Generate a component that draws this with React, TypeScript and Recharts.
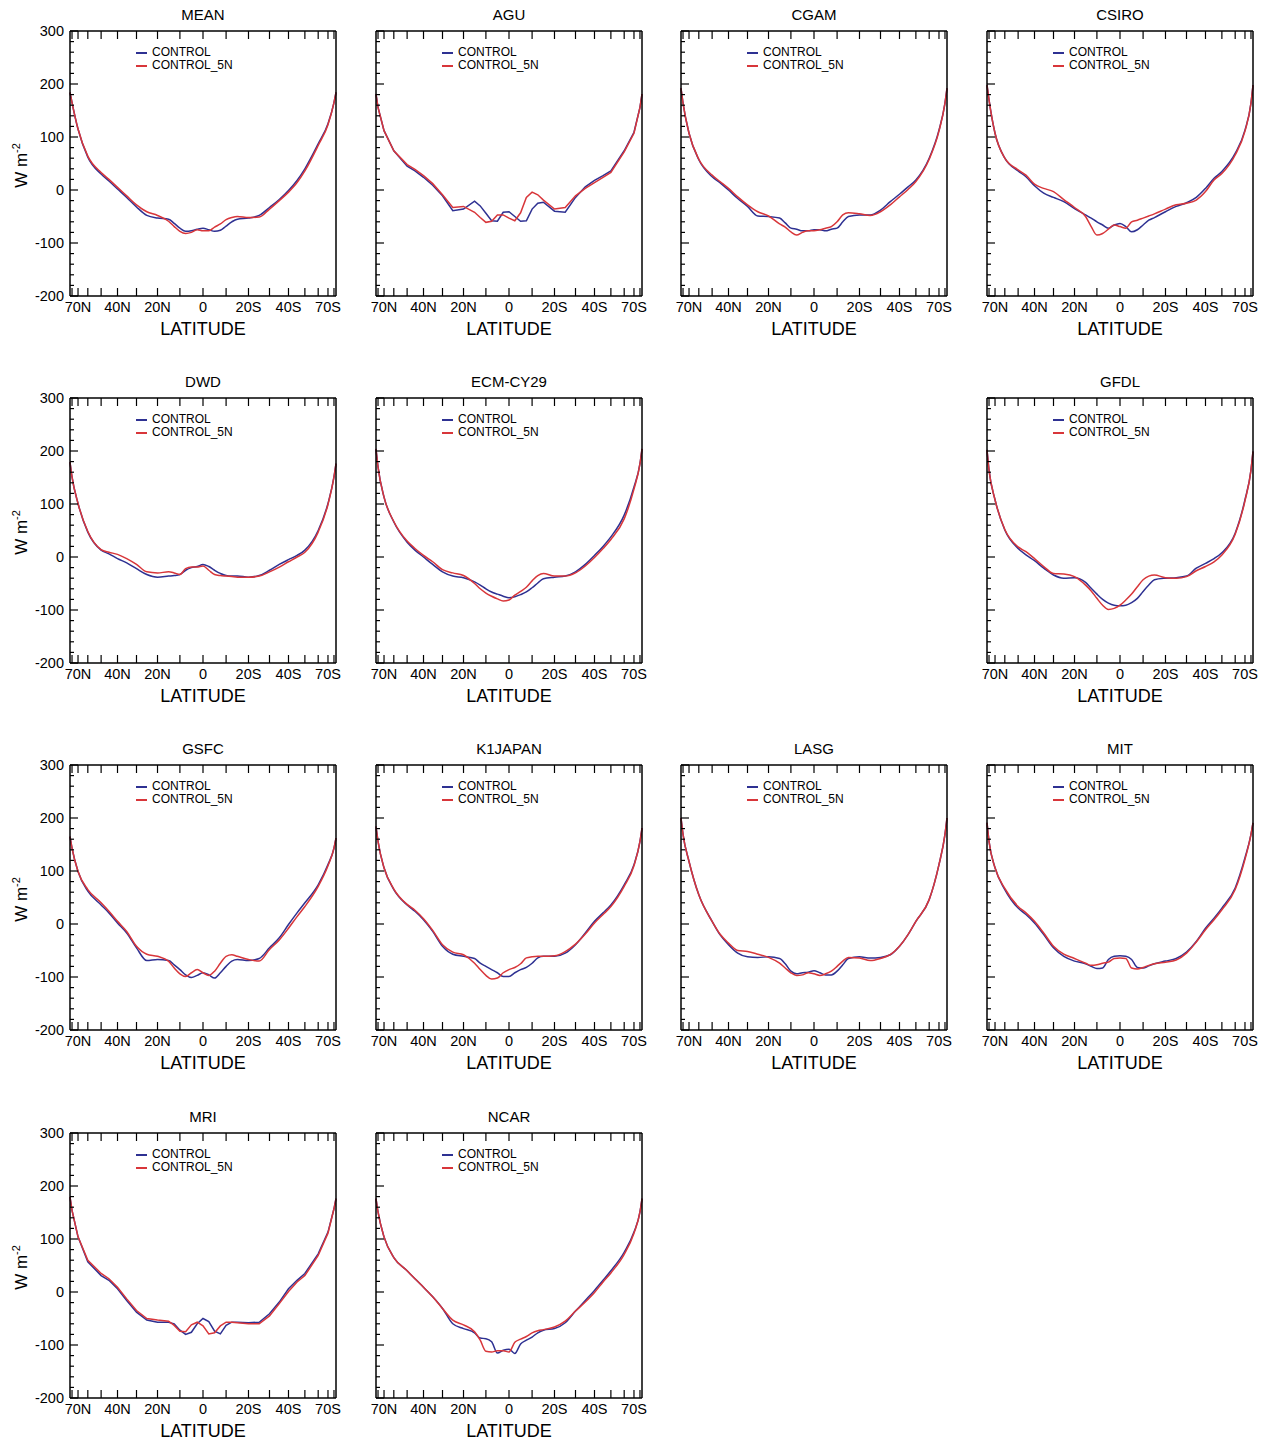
import React from "react";
import { LineChart, Line, XAxis, YAxis, Legend } from "recharts";

// latitude of each sample, north positive (plotted on a sin(latitude) axis)
const LATS = [
  90, 80, 70, 60, 50, 45, 40, 35, 30, 25, 20, 15, 12.5, 10, 7.5, 5, 2.5, 0,
  -2.5, -5, -7.5, -10, -12.5, -15, -20, -25, -30, -35, -40, -45, -50, -60, -70, -80, -90,
];

const X_TICK_LATS = [80, 70, 60, 50, 40, 30, 20, 10, 0, -10, -20, -30, -40, -50, -60, -70, -80];
const X_LABEL_LATS = [70, 40, 20, 0, -20, -40, -70];
const X_LABELS = ["70N", "40N", "20N", "0", "20S", "40S", "70S"];
const Y_TICKS = [
  -200, -180, -160, -140, -120, -100, -80, -60, -40, -20, 0, 20, 40, 60, 80, 100, 120, 140,
  160, 180, 200, 220, 240, 260, 280, 300,
];

const MEAN_CONTROL = [184, 165, 115, 62, 30, 17, 2, -14, -32, -48, -53, -55, -63, -72, -78, -77, -74, -72, -75, -78, -76, -68, -60, -55, -53, -48, -33, -18, -1, 18, 40, 87, 125, 165, 184];
const MEAN_5N = [184, 165, 115, 64, 33, 20, 5, -11, -28, -41, -48, -59, -69, -78, -82, -80, -75, -77, -77, -70, -64, -56, -52, -50, -52, -51, -36, -20, -4, 14, 36, 84, 123, 165, 184];
const AGU_CONTROL = [181, 156, 112, 74, 45, 36, 24, 9, -11, -39, -36, -21, -30, -44, -58, -59, -42, -41, -50, -59, -58, -36, -25, -23, -40, -42, -14, 6, 18, 27, 36, 74, 109, 156, 181];
const AGU_5N = [181, 156, 112, 74, 48, 39, 27, 12, -9, -33, -31, -42, -52, -61, -59, -47, -47, -53, -58, -43, -14, -4, -9, -19, -36, -33, -11, 3, 14, 24, 33, 72, 107, 156, 181];
const CGAM_CONTROL = [192, 164, 107, 57, 25, 14, 0, -16, -31, -49, -50, -53, -62, -72, -74, -77, -77, -75, -75, -77, -74, -72, -60, -50, -47, -47, -38, -22, -8, 6, 19, 60, 113, 164, 192];
const CGAM_5N = [192, 164, 107, 58, 28, 16, 3, -13, -28, -41, -49, -64, -70, -79, -85, -80, -77, -77, -75, -72, -69, -60, -47, -43, -45, -48, -41, -28, -13, 1, 16, 58, 111, 164, 192];
const CSIRO_CONTROL = [198, 170, 107, 60, 36, 25, 8, -6, -14, -22, -35, -47, -53, -60, -66, -72, -66, -63, -69, -79, -75, -66, -57, -52, -41, -31, -24, -14, 3, 22, 35, 69, 113, 164, 198];
const CSIRO_5N = [198, 170, 107, 60, 38, 28, 11, 3, -3, -18, -33, -50, -69, -85, -82, -74, -66, -69, -72, -60, -57, -53, -49, -45, -36, -28, -25, -19, -3, 19, 31, 66, 111, 164, 198];
const DWD_CONTROL = [179, 151, 101, 47, 13, 6, -3, -11, -22, -33, -38, -36, -35, -33, -25, -20, -18, -14, -18, -25, -31, -35, -36, -36, -38, -35, -25, -14, -5, 3, 13, 50, 101, 151, 176];
const DWD_5N = [179, 151, 101, 48, 14, 9, 5, -3, -14, -28, -30, -28, -30, -33, -22, -19, -19, -17, -25, -33, -35, -36, -37, -38, -38, -36, -28, -19, -9, 0, 9, 47, 99, 151, 176];
const ECM_CONTROL = [204, 170, 113, 66, 28, 13, 0, -14, -28, -36, -39, -47, -53, -60, -66, -70, -74, -77, -75, -71, -66, -58, -49, -41, -38, -36, -28, -14, 3, 20, 38, 79, 132, 176, 204];
const ECM_5N = [204, 170, 113, 67, 30, 16, 3, -9, -24, -30, -35, -50, -60, -68, -74, -79, -83, -81, -72, -65, -57, -45, -35, -31, -36, -36, -30, -17, -1, 16, 33, 72, 128, 176, 204];
const GFDL_CONTROL = [202, 164, 108, 51, 16, 4, -7, -21, -34, -40, -39, -48, -59, -70, -80, -87, -91, -92, -91, -86, -78, -65, -53, -43, -40, -39, -36, -21, -12, -3, 8, 45, 108, 164, 199];
const GFDL_5N = [202, 164, 108, 52, 19, 10, -3, -18, -31, -32, -37, -53, -64, -78, -91, -99, -97, -91, -81, -70, -56, -43, -36, -34, -39, -40, -37, -26, -18, -9, 4, 43, 106, 164, 199];
const GSFC_CONTROL = [165, 143, 99, 62, 36, 21, 2, -17, -45, -69, -67, -69, -77, -86, -96, -101, -97, -92, -96, -102, -92, -80, -70, -67, -69, -65, -45, -26, -1, 21, 40, 74, 112, 143, 162];
const GSFC_5N = [165, 143, 99, 65, 40, 24, 5, -14, -42, -57, -61, -70, -83, -94, -99, -92, -86, -92, -97, -89, -74, -61, -58, -61, -67, -70, -48, -30, -8, 14, 33, 71, 110, 143, 162];
const K1_CONTROL = [184, 156, 106, 65, 36, 24, 8, -14, -42, -57, -61, -65, -74, -80, -86, -92, -99, -99, -92, -86, -82, -74, -64, -61, -61, -55, -39, -17, 5, 21, 36, 74, 112, 156, 181];
const K1_5N = [184, 156, 106, 66, 37, 26, 10, -12, -39, -53, -58, -74, -86, -97, -104, -102, -92, -86, -82, -75, -64, -62, -61, -61, -60, -52, -38, -19, 2, 18, 33, 71, 110, 156, 181];
const LASG_CONTROL = [200, 169, 118, 55, 5, -20, -39, -55, -62, -63, -62, -65, -75, -89, -94, -92, -91, -88, -92, -96, -96, -89, -77, -65, -62, -64, -63, -58, -42, -20, 5, 46, 112, 169, 200];
const LASG_5N = [200, 169, 118, 55, 5, -19, -36, -50, -52, -57, -63, -74, -83, -92, -97, -96, -92, -94, -97, -94, -89, -80, -70, -63, -64, -69, -65, -58, -42, -20, 5, 46, 112, 169, 200];
const MIT_CONTROL = [191, 156, 106, 65, 30, 18, 2, -20, -45, -61, -70, -75, -80, -84, -83, -67, -61, -60, -61, -67, -82, -83, -79, -75, -70, -65, -53, -33, -8, 11, 30, 68, 125, 169, 191];
const MIT_5N = [191, 156, 106, 67, 33, 21, 5, -17, -42, -57, -65, -74, -78, -77, -74, -72, -65, -64, -65, -83, -85, -82, -78, -75, -72, -68, -55, -34, -11, 8, 27, 65, 122, 169, 191];
const MRI_CONTROL = [179, 154, 104, 57, 31, 22, 6, -16, -38, -53, -57, -57, -60, -72, -80, -76, -60, -50, -56, -74, -79, -63, -57, -57, -58, -57, -41, -19, 6, 22, 35, 72, 113, 157, 176];
const MRI_5N = [179, 154, 104, 60, 35, 25, 9, -13, -35, -50, -53, -55, -63, -74, -75, -62, -57, -64, -79, -77, -64, -57, -57, -58, -60, -60, -45, -22, 1, 19, 31, 69, 111, 157, 176];
const NCAR_CONTROL = [176, 151, 104, 65, 40, 25, 9, -9, -31, -60, -69, -77, -87, -88, -94, -115, -110, -108, -116, -98, -91, -85, -77, -72, -69, -58, -36, -16, 3, 22, 40, 75, 113, 151, 176];
const NCAR_5N = [176, 151, 104, 65, 40, 25, 9, -9, -31, -53, -62, -75, -91, -112, -113, -111, -111, -113, -95, -89, -84, -77, -73, -71, -66, -55, -36, -19, -1, 19, 36, 71, 111, 151, 176];

const PANELS = [
  { title: "MEAN", col: 0, row: 0, control: MEAN_CONTROL, control5n: MEAN_5N },
  { title: "AGU", col: 1, row: 0, control: AGU_CONTROL, control5n: AGU_5N, linear: true },
  { title: "CGAM", col: 2, row: 0, control: CGAM_CONTROL, control5n: CGAM_5N },
  { title: "CSIRO", col: 3, row: 0, control: CSIRO_CONTROL, control5n: CSIRO_5N },
  { title: "DWD", col: 0, row: 1, control: DWD_CONTROL, control5n: DWD_5N },
  { title: "ECM-CY29", col: 1, row: 1, control: ECM_CONTROL, control5n: ECM_5N },
  { title: "GFDL", col: 3, row: 1, control: GFDL_CONTROL, control5n: GFDL_5N },
  { title: "GSFC", col: 0, row: 2, control: GSFC_CONTROL, control5n: GSFC_5N },
  { title: "K1JAPAN", col: 1, row: 2, control: K1_CONTROL, control5n: K1_5N },
  { title: "LASG", col: 2, row: 2, control: LASG_CONTROL, control5n: LASG_5N },
  { title: "MIT", col: 3, row: 2, control: MIT_CONTROL, control5n: MIT_5N },
  { title: "MRI", col: 0, row: 3, control: MRI_CONTROL, control5n: MRI_5N, linear: true },
  { title: "NCAR", col: 1, row: 3, control: NCAR_CONTROL, control5n: NCAR_5N },
];

const COL_X = [70, 376, 681, 987];
const ROW_Y = [31, 398, 765, 1133];
const BLUE = "#2e3192";
const RED = "#d8363a";
const FONT = '"Liberation Sans", Arial, Helvetica, sans-serif';

const sinLat = (d: number) => Math.sin((d * Math.PI) / 180);
const latOf = (v: number) => X_TICK_LATS.find((l) => Math.abs(sinLat(l) - v) < 1e-6);

// inner tick marks are drawn by the tick renderers, at the axis' own tick coordinates
function BottomTick({ x, y, payload }: any) {
  const i = X_LABEL_LATS.indexOf(latOf(payload.value) as number);
  return (
    <g>
      <line x1={x} x2={x} y1={y} y2={y - 8} stroke="#000" strokeWidth={1.2} />
      {i >= 0 && (
        <text x={x} y={y + 16} textAnchor="middle" fontSize={14.5} fill="#000">
          {X_LABELS[i]}
        </text>
      )}
    </g>
  );
}

function TopTick({ x, y }: any) {
  return <line x1={x} x2={x} y1={y} y2={y + 8} stroke="#000" strokeWidth={1.2} />;
}

function LeftTick({ x, y, payload, showLabels }: any) {
  const major = payload.value % 100 === 0;
  return (
    <g>
      <line x1={x} x2={x + (major ? 8 : 4)} y1={y} y2={y} stroke="#000" strokeWidth={1.2} />
      {major && showLabels && (
        <text x={x - 6} y={y + 5} textAnchor="end" fontSize={14.5} fill="#000">
          {payload.value}
        </text>
      )}
    </g>
  );
}

function RightTick({ x, y, payload }: any) {
  const major = payload.value % 100 === 0;
  return <line x1={x} x2={x - (major ? 8 : 4)} y1={y} y2={y} stroke="#000" strokeWidth={1.2} />;
}

function YLabel({ viewBox }: any) {
  const cx = viewBox.x + 27;
  const cy = viewBox.y + viewBox.height / 2 + 2;
  return (
    <text x={cx} y={cy} transform={`rotate(-90 ${cx} ${cy})`} textAnchor="middle" fontSize={17} fill="#000">
      W m<tspan dy={-7} fontSize={11}>-2</tspan>
    </text>
  );
}

function TitleLabel({ viewBox, title }: any) {
  return (
    <text x={viewBox.x + viewBox.width / 2} y={viewBox.y - 10} textAnchor="middle" fontSize={15} fill="#000">
      {title}
    </text>
  );
}

function LegendBox({ payload }: any) {
  return (
    <div style={{ fontSize: 12, lineHeight: "13px", color: "#000", fontFamily: FONT }}>
      {(payload || []).map((p: any) => (
        <div key={p.value} style={{ display: "flex", alignItems: "center", whiteSpace: "nowrap" }}>
          <span style={{ display: "inline-block", width: 11, height: 2, background: p.color, marginRight: 5 }} />
          {p.value}
        </div>
      ))}
    </div>
  );
}

function Panel({ panel }: { panel: (typeof PANELS)[number] }) {
  const data = LATS.map((lat, i) => ({
    s: sinLat(lat),
    control: panel.control[i],
    control5n: panel.control5n[i],
  }));
  const showY = panel.col === 0;
  const curve = panel.linear ? "linear" : "monotone";

  return (
    <div style={{ position: "absolute", left: COL_X[panel.col] - 70, top: ROW_Y[panel.row] - 30 }}>
      <LineChart width={350} height={339} data={data} margin={{ top: 29, right: 13, bottom: 0, left: 0 }}>
        <XAxis
          xAxisId="main"
          dataKey="s"
          type="number"
          domain={[-1, 1]}
          reversed
          ticks={X_TICK_LATS.map(sinLat)}
          interval={0}
          height={44}
          tickSize={0}
          tickMargin={0}
          tickLine={false}
          axisLine={{ stroke: "#000", strokeWidth: 1.5 }}
          tick={(p: any) => <BottomTick {...p} />}
          label={{ value: "LATITUDE", position: "insideBottom", offset: 5, fontSize: 18, fill: "#000" }}
        />
        <XAxis
          xAxisId="top"
          orientation="top"
          type="number"
          dataKey="s"
          domain={[-1, 1]}
          reversed
          ticks={X_TICK_LATS.map(sinLat)}
          interval={0}
          height={1}
          tickSize={0}
          tickMargin={0}
          tickLine={false}
          axisLine={{ stroke: "#000", strokeWidth: 1.5 }}
          tick={(p: any) => <TopTick {...p} />}
          label={(p: any) => <TitleLabel {...p} title={panel.title} />}
        />
        <YAxis
          yAxisId="main"
          type="number"
          domain={[-200, 300]}
          ticks={Y_TICKS}
          interval={0}
          width={70}
          tickSize={0}
          tickMargin={0}
          tickLine={false}
          axisLine={{ stroke: "#000", strokeWidth: 1.5 }}
          tick={(p: any) => <LeftTick {...p} showLabels={showY} />}
          label={showY ? (p: any) => <YLabel {...p} /> : undefined}
        />
        <YAxis
          yAxisId="right"
          orientation="right"
          type="number"
          domain={[-200, 300]}
          ticks={Y_TICKS}
          interval={0}
          width={1}
          tickSize={0}
          tickMargin={0}
          tickLine={false}
          axisLine={{ stroke: "#000", strokeWidth: 1.5 }}
          tick={(p: any) => <RightTick {...p} />}
        />
        <Legend
          layout="vertical"
          align="center"
          verticalAlign="middle"
          content={(p: any) => <LegendBox {...p} />}
          wrapperStyle={{ left: 136, top: 45, width: "auto" }}
        />
        <Line
          xAxisId="main"
          yAxisId="main"
          type={curve}
          dataKey="control"
          name="CONTROL"
          stroke={BLUE}
          strokeWidth={1.5}
          dot={false}
          isAnimationActive={false}
        />
        <Line
          xAxisId="main"
          yAxisId="main"
          type={curve}
          dataKey="control5n"
          name="CONTROL_5N"
          stroke={RED}
          strokeWidth={1.5}
          dot={false}
          isAnimationActive={false}
        />
      </LineChart>
    </div>
  );
}

export default function App() {
  return (
    <div
      style={{
        position: "absolute",
        left: 0,
        top: 0,
        width: 1272,
        height: 1441,
        background: "#fff",
        fontFamily: FONT,
      }}
    >
      {PANELS.map((p) => (
        <Panel key={p.title} panel={p} />
      ))}
    </div>
  );
}
